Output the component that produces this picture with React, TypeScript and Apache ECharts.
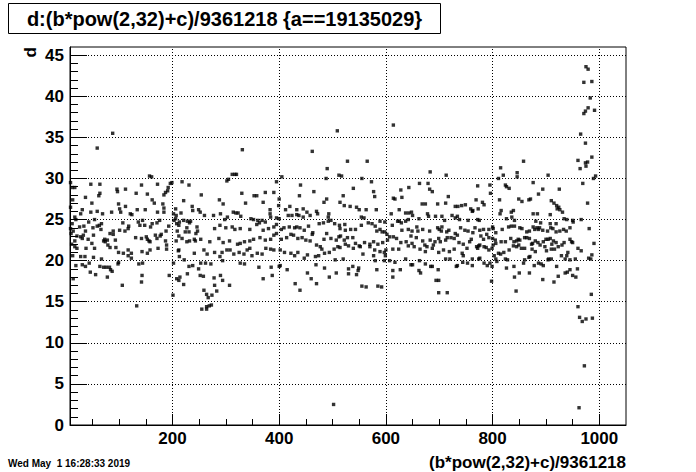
import React, { useEffect, useRef } from "react";
import * as echarts from "echarts";

const xMajor = [200, 400, 600, 800, 1000];
const xMinor = [50, 100, 150, 250, 300, 350, 450, 500, 550, 650, 700, 750, 850, 900, 950];
const yMajor = [0, 5, 10, 15, 20, 25, 30, 35, 40, 45];
const yMinor = [1, 2, 3, 4, 6, 7, 8, 9, 11, 12, 13, 14, 16, 17, 18, 19, 21, 22, 23, 24, 26, 27, 28, 29, 31, 32, 33, 34, 36, 37, 38, 39, 41, 42, 43, 44];

const zoneA = [[9,29.5],[12,28.9],[17,28.9],[13,27.4],[9,26.5],[17,25.3],[12,24.5],[19,25.0],[9,23.9],[14,23.6],[10,23.3],[21,23.0],[17,22.4],[11,22.0],[17,21.7],[21,21.5],[13,20.6],[19,19.4],[14,17.8],[28,25.7],[31,26.2],[26,24.1],[34,24.2],[28,22.9],[33,23.1],[37,23.6],[31,22.7],[38,21.5],[28,20.5],[36,20.5],[44,19.7],[31,19.5],[37,19.3],[46,18.6],[56,18.3],[47,29.3],[37,27.7],[49,27.0],[47,25.9],[43,24.7],[51,24.0],[52,23.1],[42,22.6],[49,22.1],[54,21.5],[52,20.4],[64,29.3],[64,28.2],[62,27.9],[59,26.0],[54,25.0],[59,24.2],[63,24.3],[67,24.5],[69,25.7],[66,23.8],[71,22.4],[73,22.6],[74,22.3],[79,21.9],[83,21.6],[78,22.5],[67,20.2],[64,19.3],[71,19.2],[76,19.2],[82,19.2],[84,18.9],[87,18.7],[78,18.0],[86,25.9],[83,23.3],[89,23.6],[89,23.2],[96,28.7],[97,28.4],[112,28.7],[99,26.9],[101,26.3],[112,26.6],[103,25.9],[107,24.6],[117,23.9],[101,23.7],[111,23.6],[93,22.5],[94,21.6],[99,21.0],[108,20.9],[99,19.8],[98,19.6],[117,20.6],[117,21.3],[121,25.7],[124,25.6],[118,24.2],[123,20.9],[106,17.0],[123,20.3],[132,28.2],[134,26.2],[142,29.2],[136,24.7],[144,24.9],[149,26.2],[131,22.8],[139,24.3],[142,22.7],[143,21.1],[137,19.6],[144,19.7],[143,18.2],[142,17.4],[153,28.1],[157,30.3],[161,30.2],[148,24.3],[151,22.9],[153,22.6],[156,22.4],[158,22.3],[153,20.9],[158,21.3],[162,24.5],[159,24.1],[172,29.3],[162,27.4],[166,27.0],[172,25.9],[171,24.6],[176,24.9],[168,23.1],[171,22.7],[177,23.0],[179,23.2],[173,21.5],[184,28.0],[187,28.3],[191,28.5],[192,28.9],[196,29.4],[199,29.5],[182,26.9],[184,26.4],[184,25.9],[188,23.6],[187,22.4],[189,21.9],[189,21.4],[193,24.2],[194,18.2],[201,15.8],[202,25.7],[206,26.3],[207,25.5],[206,25.1],[203,24.9],[208,24.5],[212,24.3],[213,24.7],[209,23.6],[212,23.0],[207,22.4],[218,29.6],[221,27.3],[231,29.2],[216,25.8],[218,22.7],[221,24.9],[227,24.0],[224,23.5],[228,24.8],[232,24.6],[231,23.5],[234,24.8],[232,22.4],[238,26.1],[237,26.6],[227,22.3],[212,21.3],[213,20.5],[222,20.1],[231,19.3],[238,19.4],[208,17.8],[212,17.6],[214,18.0],[221,17.1],[228,18.4],[211,21.2],[202,19.7],[241,22.6],[243,22.4],[244,23.3],[246,24.1],[247,23.6],[249,26.2],[241,20.9],[249,19.0]];

const zoneB = [[312,30.5],[317,30.5],[320,30.5],[302,29.7],[305,29.9],[395,29.6],[405,30.2],[254,28.0],[330,28.2],[353,27.9],[358,27.9],[374,28.3],[390,28.3],[337,27.0],[370,27.1],[400,27.5],[399,26.7],[288,27.4],[295,26.9],[383,26.2],[383,25.7],[384,25.3],[420,26.6],[412,26.2],[433,26.2],[440,29.2],[438,27.9],[433,25.6],[445,26.3],[452,25.9],[465,28.4],[470,26.0],[484,27.1],[489,27.5],[488,30.0],[490,31.2],[493,25.7],[512,30.4],[252,25.9],[260,25.5],[277,25.5],[290,25.7],[298,25.0],[303,25.3],[314,25.9],[319,25.8],[323,25.8],[328,25.4],[347,25.1],[352,25.0],[360,24.9],[368,24.9],[374,24.7],[395,25.2],[400,25.1],[417,25.5],[424,25.5],[437,25.5],[445,25.3],[458,25.5],[472,25.7],[492,25.3],[279,23.9],[289,24.3],[300,24.0],[312,24.1],[317,23.8],[327,23.9],[345,23.8],[358,24.4],[363,24.6],[370,23.7],[380,23.9],[390,24.1],[395,24.4],[404,23.8],[409,24.0],[419,24.1],[429,24.0],[433,24.1],[439,24.0],[447,23.7],[455,24.2],[463,23.4],[475,24.5],[483,24.6],[492,24.8],[497,24.9],[504,24.5],[513,24.3],[253,22.6],[270,22.3],[287,22.7],[295,22.2],[307,22.4],[322,22.0],[327,22.1],[335,22.3],[345,22.4],[352,22.6],[364,22.8],[374,22.5],[384,22.6],[390,23.1],[395,23.3],[404,22.6],[414,22.8],[422,23.2],[427,23.1],[435,22.7],[443,22.8],[450,22.5],[458,22.4],[462,23.2],[470,21.9],[477,21.7],[484,22.6],[489,23.3],[497,22.7],[507,22.5],[512,22.9],[259,21.3],[265,20.8],[279,21.0],[293,21.0],[302,21.3],[308,21.3],[315,20.8],[325,21.0],[334,20.8],[340,21.3],[345,21.5],[349,20.6],[359,20.9],[368,20.8],[375,21.5],[384,21.4],[390,21.3],[402,21.3],[410,21.0],[422,20.9],[429,20.6],[435,21.0],[447,20.3],[453,20.7],[468,20.5],[474,20.6],[480,21.4],[485,20.9],[494,21.0],[503,21.4],[510,21.7],[253,19.7],[262,19.7],[272,19.6],[294,20.0],[289,20.5],[327,19.7],[335,19.6],[362,19.2],[370,17.8],[385,19.2],[387,18.2],[400,19.3],[402,19.4],[415,18.9],[430,17.2],[439,16.4],[453,18.5],[460,17.8],[469,19.5],[470,17.2],[485,19.1],[494,18.0],[507,18.5],[505,20.1],[252,18.2],[258,18.1],[259,16.4],[267,15.5],[264,15.9],[274,15.8],[279,17.0],[278,17.9],[290,18.2],[294,17.6],[283,16.3],[307,17.0]];

const zoneC = [[528,32.1],[565,32.1],[683,30.8],[713,30.4],[517,30.3],[555,30.0],[573,29.6],[539,28.8],[577,28.4],[579,27.8],[614,27.6],[628,28.6],[630,27.7],[643,28.9],[663,29.4],[679,29.4],[682,28.7],[687,28.4],[717,27.8],[772,29.1],[520,27.9],[514,27.1],[522,26.7],[533,26.6],[545,26.5],[550,26.2],[563,26.2],[582,26.2],[617,27.5],[625,26.2],[637,25.8],[643,25.8],[648,25.9],[610,25.7],[668,26.9],[674,26.9],[678,25.7],[697,26.9],[712,27.0],[730,26.6],[735,26.6],[742,26.7],[749,26.8],[759,26.3],[763,26.1],[773,26.3],[769,27.4],[554,25.3],[559,25.2],[567,24.6],[574,24.5],[589,24.8],[598,24.7],[583,23.6],[622,24.8],[625,24.8],[629,24.6],[637,24.8],[642,25.0],[612,24.3],[650,25.5],[662,25.1],[680,25.4],[693,25.4],[705,25.4],[710,24.9],[724,25.5],[730,25.2],[734,25.4],[738,25.0],[754,24.9],[762,26.0],[772,25.0],[775,24.9],[523,24.4],[514,23.9],[524,23.7],[534,23.8],[543,23.8],[554,24.3],[580,24.2],[589,23.8],[593,23.5],[598,23.5],[602,23.2],[607,22.9],[630,23.7],[642,23.8],[649,23.6],[658,24.1],[660,23.6],[669,23.8],[682,23.6],[697,24.0],[700,23.8],[705,24.1],[704,23.6],[714,23.5],[718,23.7],[730,23.3],[734,23.1],[740,24.0],[748,23.7],[754,23.6],[763,23.4],[767,24.0],[515,23.0],[522,22.5],[528,22.8],[538,22.8],[543,22.1],[550,21.8],[560,22.2],[570,22.0],[577,22.3],[585,22.0],[594,22.2],[603,22.5],[614,22.9],[620,22.7],[628,22.2],[638,22.3],[647,23.0],[649,22.1],[657,22.8],[669,22.4],[673,21.9],[683,22.5],[692,22.3],[699,22.7],[702,22.3],[712,22.5],[715,22.8],[722,22.8],[728,22.7],[737,22.2],[745,22.0],[757,22.3],[760,22.6],[770,21.7],[774,21.8],[514,21.6],[524,22.0],[530,21.8],[539,21.5],[552,21.7],[557,20.8],[570,21.7],[579,21.3],[589,21.1],[597,21.0],[599,20.6],[600,21.3],[613,21.4],[624,21.4],[642,21.8],[653,21.7],[664,21.4],[674,21.1],[677,21.7],[687,21.5],[689,21.9],[699,21.0],[708,21.3],[719,21.1],[728,21.4],[743,20.9],[745,20.6],[752,21.5],[762,20.2],[772,21.5],[520,20.2],[577,20.6],[580,20.0],[597,20.0],[607,20.0],[617,19.8],[637,20.2],[647,19.5],[650,19.5],[663,20.0],[674,19.6],[687,19.3],[698,18.9],[712,20.2],[720,20.2],[732,19.3],[734,19.4],[744,19.8],[753,19.7],[762,19.4],[774,20.2],[530,19.0],[538,19.3],[549,19.1],[548,18.8],[530,18.4],[545,18.3],[583,18.9],[613,18.8],[613,18.0],[627,18.9],[662,18.8],[665,18.5],[684,19.3],[694,17.6],[699,17.6],[555,16.9],[563,16.8],[585,16.9],[592,16.8],[699,16.1],[715,16.1]];

const zoneD = [[960,32.2],[974,31.9],[978,32.0],[986,32.6],[964,31.2],[975,31.5],[815,31.3],[858,32.1],[811,30.0],[820,30.4],[826,29.0],[831,28.8],[824,29.2],[846,30.7],[846,30.2],[876,29.5],[904,30.4],[925,28.7],[969,29.4],[989,30.0],[993,30.3],[795,29.2],[796,28.2],[894,28.7],[886,28.1],[781,27.1],[784,26.8],[813,27.4],[849,27.5],[855,27.2],[868,27.4],[871,27.5],[910,27.3],[915,27.0],[920,26.7],[924,26.5],[926,26.2],[921,26.3],[931,25.9],[978,27.0],[876,25.7],[884,25.7],[908,25.6],[934,25.1],[939,25.0],[950,24.9],[966,25.0],[816,26.1],[814,25.7],[826,25.1],[835,25.9],[839,26.1],[836,25.3],[841,24.9],[776,23.7],[783,23.8],[793,23.8],[800,24.1],[801,23.9],[806,23.4],[818,23.8],[830,24.1],[835,24.2],[841,24.2],[851,24.0],[855,23.9],[864,23.5],[869,23.6],[876,24.1],[879,23.8],[883,24.0],[886,23.8],[888,24.0],[894,23.7],[903,23.6],[909,24.0],[913,23.9],[919,24.5],[919,23.5],[926,23.6],[933,23.8],[938,23.6],[945,24.0],[951,24.7],[981,23.9],[990,22.1],[986,20.7],[980,20.3],[881,24.8],[890,24.6],[908,24.5],[778,23.0],[783,22.6],[789,23.2],[793,22.8],[800,22.7],[805,22.5],[806,22.1],[816,22.3],[824,22.3],[834,22.7],[840,22.3],[845,22.4],[848,22.6],[851,22.5],[860,22.8],[864,22.8],[869,22.7],[875,22.1],[880,22.4],[885,22.2],[895,22.3],[900,22.6],[904,22.6],[908,22.7],[911,22.0],[914,22.4],[919,22.2],[930,21.9],[934,22.2],[945,22.6],[948,22.3],[950,22.2],[960,21.5],[966,21.2],[776,21.9],[784,21.7],[788,21.6],[793,21.3],[799,21.5],[801,21.9],[811,20.9],[815,20.8],[821,21.0],[831,21.3],[839,21.8],[845,21.7],[849,21.9],[854,21.5],[860,21.5],[873,22.0],[874,21.4],[880,21.1],[889,21.9],[898,21.7],[901,21.2],[910,21.4],[916,21.4],[923,21.7],[929,20.6],[939,20.6],[941,21.0],[945,20.1],[936,20.2],[955,20.2],[984,20.2],[776,20.3],[784,19.7],[790,19.4],[795,19.7],[799,19.3],[803,20.6],[806,20.2],[808,19.9],[824,20.2],[828,20.1],[826,19.1],[840,19.3],[841,18.0],[850,18.5],[858,19.7],[860,20.1],[868,20.4],[870,20.5],[878,19.4],[886,19.7],[891,19.6],[895,19.4],[904,20.1],[905,20.2],[910,20.2],[920,19.3],[923,18.1],[936,18.5],[940,18.6],[945,18.9],[950,18.2],[956,18.0],[959,19.0],[915,17.4],[894,17.7],[798,17.5],[869,18.5],[844,16.3],[985,15.9],[960,14.4]];

const highPoints = [[59,33.7],[88,35.5],[331,33.5],[462,33.3],[509,35.8],[614,36.5],[975,43.6],[979,43.3],[971,41.7],[986,41.8],[983,39.8],[974,38.2],[971,37.9],[979,38.6],[991,38.3],[965,35.4],[974,34.3]];

const lowPoints = [[133,14.5],[255,14.1],[264,14.1],[264,14.4],[269,14.5],[273,14.6],[502,2.5],[963,13.1],[968,12.6],[975,12.9],[987,13.0],[972,7.2],[962,2.1]];

const X_MIN = 8;
const X_MAX = 1050;
const Y_MIN = 0;
const Y_MAX = 46;

const titleText = "d:(b*pow(2,32)+c)/9361218 {a==19135029}";
const xTitle = "(b*pow(2,32)+c)/9361218";
const yTitle = "d";
const dateText = "Wed May  1 16:28:33 2019";

const FONT = "'Liberation Sans', Arial, Helvetica, sans-serif";

export default function App() {
  const ref = useRef<HTMLDivElement>(null);
  useEffect(() => {
    if (!ref.current) return;
    const chart = echarts.init(ref.current, null, { renderer: "svg" });
    const points = [...zoneA, ...zoneB, ...zoneC, ...zoneD, ...highPoints, ...lowPoints];
    const gridLines = [
      ...xMajor.map((v) => ({ xAxis: v })),
      ...yMajor.filter((v) => v > 0).map((v) => ({ yAxis: v })),
    ];
    const label = {
      color: "#000",
      fontFamily: FONT,
      fontWeight: "bold" as const,
      fontSize: 17,
      formatter: (v: number) => String(v),
    };
    chart.setOption({
      animation: false,
      backgroundColor: "#fff",
      grid: {
        left: 70, right: 70, top: 47, bottom: 47,
        show: true, borderColor: "#000", borderWidth: 1, backgroundColor: "transparent",
      },
      xAxis: [
        {
          type: "value", min: X_MIN, max: X_MAX, position: "bottom",
          axisLine: { show: true, onZero: false, lineStyle: { color: "#000", width: 1 } },
          axisTick: { show: true, inside: true, length: 11, customValues: xMajor, lineStyle: { color: "#000" } },
          axisLabel: { show: true, customValues: xMajor, margin: 5, ...label },
          splitLine: { show: false },
        },
        {
          type: "value", min: X_MIN, max: X_MAX, position: "bottom",
          axisLine: { show: false },
          axisTick: { show: true, inside: true, length: 6, customValues: xMinor, lineStyle: { color: "#000" } },
          axisLabel: { show: false },
          splitLine: { show: false },
        },
      ],
      yAxis: [
        {
          type: "value", min: Y_MIN, max: Y_MAX, position: "left",
          axisLine: { show: true, onZero: false, lineStyle: { color: "#000", width: 1 } },
          axisTick: { show: true, inside: true, length: 17, customValues: yMajor, lineStyle: { color: "#000" } },
          axisLabel: { show: true, customValues: yMajor, margin: 6, ...label },
          splitLine: { show: false },
        },
        {
          type: "value", min: Y_MIN, max: Y_MAX, position: "left",
          axisLine: { show: false },
          axisTick: { show: true, inside: true, length: 8, customValues: yMinor, lineStyle: { color: "#000" } },
          axisLabel: { show: false },
          splitLine: { show: false },
        },
      ],
      series: [
        {
          type: "scatter",
          xAxisIndex: 0,
          yAxisIndex: 0,
          data: points,
          symbol: "rect",
          symbolSize: 3.4,
          itemStyle: { color: "#000" },
          silent: true,
          markLine: {
            silent: true,
            symbol: "none",
            label: { show: false },
            lineStyle: { color: "#000", type: [1, 2], width: 1 },
            data: gridLines,
          },
        },
      ],
      graphic: [
        {
          type: "rect",
          shape: { x: 8.5, y: 3.5, width: 432, height: 30 },
          style: { fill: "#fff", stroke: "#000", lineWidth: 1 },
          z: 10,
        },
        {
          type: "text",
          x: 224.5, y: 19,
          style: { text: titleText, fill: "#000", font: `bold 20px ${FONT}`, textAlign: "center", textVerticalAlign: "middle" },
          z: 11,
        },
        {
          type: "text",
          x: 626, y: 462,
          style: { text: xTitle, fill: "#000", font: `bold 17px ${FONT}`, textAlign: "right", textVerticalAlign: "middle" },
        },
        {
          type: "text",
          x: 30, y: 47,
          rotation: Math.PI / 2,
          style: { text: yTitle, fill: "#000", font: `bold 17px ${FONT}`, textAlign: "right", textVerticalAlign: "middle" },
        },
        {
          type: "text",
          x: 8, y: 463,
          style: { text: dateText, fill: "#000", font: `bold 10px ${FONT}`, textAlign: "left", textVerticalAlign: "middle" },
        },
      ],
    });
    return () => chart.dispose();
  }, []);
  return (
    <div
      ref={ref}
      style={{ position: "absolute", left: 0, top: 0, width: 696, height: 472, background: "#fff" }}
    />
  );
}
